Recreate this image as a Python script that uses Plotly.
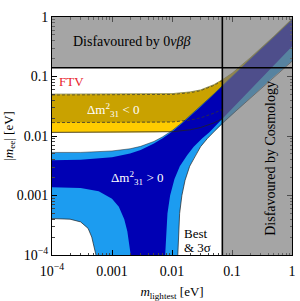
import plotly.graph_objects as go

# ---------------- data ----------------
# lightest neutrino mass grid for upper boundaries [eV]
M_UP = [1e-4, 3e-4, 1e-3, 2e-3, 3e-3, 5e-3, 7e-3, 0.01, 0.015, 0.02, 0.03, 0.05, 0.07, 0.1, 0.2, 0.5, 1.0]
NH_UP_3S = [0.0053, 0.0053, 0.0056, 0.0061, 0.0067, 0.0081, 0.0097, 0.0123, 0.0170, 0.0220, 0.0315, 0.0510, 0.0710, 0.101, 0.195, 0.46, 0.90]
NH_UP_BF = [0.0039, 0.0040, 0.0044, 0.0051, 0.0058, 0.0075, 0.0092, 0.0118, 0.0165, 0.0213, 0.0310, 0.0505, 0.0705, 0.100, 0.193, 0.455, 0.89]

# NH best-fit lower boundary, left branch (goes to zero)
M_NH_LO_BF_L = [1e-4, 3e-4, 6e-4, 1e-3, 1.3e-3, 1.6e-3, 1.8e-3, 1.95e-3, 2.05e-3]
NH_LO_BF_L = [0.00138, 0.00134, 0.00118, 0.00088, 0.00065, 0.00040, 0.00025, 0.00015, 0.0001]
# NH best-fit lower boundary, right branch
M_NH_LO_BF_R = [0.0077, 0.0079, 0.0084, 0.0093, 0.0110, 0.0135, 0.018, 0.023, 0.032, 0.042, 0.069, 0.1, 0.2, 0.5, 1.0]
NH_LO_BF_R = [0.0001, 0.0002, 0.0005, 0.0010, 0.0019, 0.0031, 0.0048, 0.0066, 0.0092, 0.0116, 0.019, 0.028, 0.060, 0.155, 0.32]

# NH 3 sigma lower boundary, left branch
M_NH_LO_3S_L = [1e-4, 2e-4, 3e-4, 4e-4, 4.6e-4, 5.1e-4, 5.4e-4]
NH_LO_3S_L = [0.00041, 0.00040, 0.00036, 0.00028, 0.00020, 0.00013, 0.0001]
# NH 3 sigma lower boundary, right branch
M_NH_LO_3S_R = [0.0125, 0.0128, 0.0134, 0.0146, 0.0165, 0.0197, 0.0245, 0.0299, 0.0389, 0.0489, 0.069, 0.1, 0.2, 0.5, 1.0]
NH_LO_3S_R = [0.0001, 0.0002, 0.0005, 0.0010, 0.0018, 0.0031, 0.0047, 0.0066, 0.0091, 0.0116, 0.0164, 0.023, 0.043, 0.100, 0.18]

# inverted hierarchy
M_IH = [1e-4, 1e-3, 0.005, 0.01, 0.02, 0.03, 0.05, 0.069, 0.1, 0.2, 0.5, 1.0]
IH_UP_3S = [0.0505, 0.0505, 0.0507, 0.0515, 0.0550, 0.0595, 0.0730, 0.0880, 0.113, 0.205, 0.475, 0.93]
IH_UP_BF = [0.0490, 0.0490, 0.0492, 0.0500, 0.0535, 0.0580, 0.0710, 0.0860, 0.111, 0.200, 0.465, 0.92]
IH_LO_BF = [0.0168, 0.0168, 0.0169, 0.0172, 0.0185, 0.0202, 0.0242, 0.0280, 0.037, 0.070, 0.17, 0.34]
IH_LO_3S = [0.0115, 0.0115, 0.0116, 0.0118, 0.0127, 0.0139, 0.0166, 0.0195, 0.026, 0.048, 0.115, 0.20]

# limits
M_COSMO = 0.069      # cosmology bound on m_lightest
MEE_0NUBB = 0.14     # 0nubb bound on |m_ee|

X_TICKS = [1e-4, 1e-3, 1e-2, 1e-1, 1]
X_TICKTEXT = ["10<sup>\u22124</sup>", "0.001", "0.01", "0.1", "1"]
Y_TICKS = [1e-4, 1e-3, 1e-2, 1e-1, 1]
Y_TICKTEXT = ["10<sup>\u22124</sup>", "0.001", "0.01", "0.1", "1"]
MINOR = [k * 10 ** e for e in range(-4, 0) for k in range(2, 10)]

FLOOR = 1e-7

C_LIGHT = "#1c9cf0"
C_DARK = "#0000b4"
C_GOLD = "#c9a200"
C_YELLOW = "#ffcc00"
SERIF = "Liberation Serif"

# ---------------- figure ----------------
def region(ux, uy, lx, ly):
    return list(ux) + list(reversed(lx)), list(uy) + list(reversed(ly))

fig = go.Figure()

# IH 3 sigma (yellow)
x, y = region(M_IH, IH_UP_3S, M_IH, IH_LO_3S)
fig.add_trace(go.Scatter(x=x, y=y, fill="toself", fillcolor=C_YELLOW, line=dict(width=0), mode="lines", hoverinfo="skip"))
# IH best (gold)
x, y = region(M_IH, IH_UP_BF, M_IH, IH_LO_BF)
fig.add_trace(go.Scatter(x=x, y=y, fill="toself", fillcolor=C_GOLD, line=dict(width=0), mode="lines", hoverinfo="skip"))

# NH 3 sigma (light blue)
lo3x = M_NH_LO_3S_L + [M_NH_LO_3S_L[-1], M_NH_LO_3S_R[0]] + M_NH_LO_3S_R
lo3y = NH_LO_3S_L + [FLOOR, FLOOR] + NH_LO_3S_R
x, y = region(M_UP, NH_UP_3S, lo3x, lo3y)
fig.add_trace(go.Scatter(x=x, y=y, fill="toself", fillcolor=C_LIGHT, line=dict(width=0), mode="lines", hoverinfo="skip"))

# NH best (dark blue)
lobx = M_NH_LO_BF_L + [M_NH_LO_BF_L[-1], M_NH_LO_BF_R[0]] + M_NH_LO_BF_R
loby = NH_LO_BF_L + [FLOOR, FLOOR] + NH_LO_BF_R
x, y = region(M_UP, NH_UP_BF, lobx, loby)
fig.add_trace(go.Scatter(x=x, y=y, fill="toself", fillcolor=C_DARK, line=dict(width=0), mode="lines", hoverinfo="skip"))

# outlines
n_ih = M_IH.index(M_COSMO) + 1
fig.add_trace(go.Scatter(x=M_IH[:n_ih], y=IH_UP_BF[:n_ih], mode="lines", line=dict(color="#333333", width=0.8, dash="3px,2px"), hoverinfo="skip"))
fig.add_trace(go.Scatter(x=M_IH[:n_ih], y=IH_LO_BF[:n_ih], mode="lines", line=dict(color="#333333", width=0.8, dash="3px,2px"), hoverinfo="skip"))
fig.add_trace(go.Scatter(x=M_IH, y=IH_UP_3S, mode="lines", line=dict(color="#7a7a40", width=0.8), hoverinfo="skip"))
fig.add_trace(go.Scatter(x=M_IH[:n_ih], y=IH_LO_3S[:n_ih], mode="lines", line=dict(color="#222222", width=0.8), hoverinfo="skip"))
fig.add_trace(go.Scatter(x=M_NH_LO_3S_L, y=NH_LO_3S_L, mode="lines", line=dict(color="#222222", width=0.7), hoverinfo="skip"))
fig.add_trace(go.Scatter(x=M_NH_LO_3S_R, y=NH_LO_3S_R, mode="lines", line=dict(color="#222222", width=0.7), hoverinfo="skip"))
fig.add_trace(go.Scatter(x=M_UP, y=NH_UP_3S, mode="lines", line=dict(color="#222222", width=0.5), hoverinfo="skip"))

# disfavoured regions (semi-transparent gray above data)
GRAY = "rgba(118,118,118,0.66)"
fig.add_shape(type="rect", xref="x", yref="y", x0=1e-4, x1=1, y0=MEE_0NUBB, y1=1,
              fillcolor=GRAY, line=dict(width=0), layer="above")
fig.add_shape(type="rect", xref="x", yref="y", x0=M_COSMO, x1=1, y0=1e-4, y1=MEE_0NUBB,
              fillcolor=GRAY, line=dict(width=0), layer="above")
fig.add_shape(type="line", xref="x", yref="y", x0=1e-4, x1=1, y0=MEE_0NUBB, y1=MEE_0NUBB,
              line=dict(color="black", width=1.6), layer="above")
fig.add_shape(type="line", xref="x", yref="y", x0=M_COSMO, x1=M_COSMO, y0=1e-4, y1=1,
              line=dict(color="black", width=1.6), layer="above")

L, T, W, H = 52, 17, 244, 244
def px(xp):
    return (xp - L) / W
def py(yp):
    return 1 - (yp - T) / H

def note(text, xp, yp, size=13, color="black", angle=0, align="center", xanchor="center"):
    fig.add_annotation(text=text, x=px(xp), y=py(yp), xref="paper", yref="paper",
                       xanchor=xanchor, yanchor="middle", borderpad=0,
                       showarrow=False, textangle=angle, align=align,
                       font=dict(family=SERIF, size=size, color=color))

note("Disfavoured by 0<i>\u03bd\u03b2\u03b2</i>", 133, 42, size=14)
note("Disfavoured by Cosmology", 274, 162, size=14, angle=-90)
note("FTV", 72, 83, size=13, color="#e8202a")
note("\u0394m<sup>2</sup><sub>31</sub> &lt; 0", 114, 112, size=13, color="white")
note("\u0394m<sup>2</sup><sub>31</sub> &gt; 0", 138, 182, size=13, color="white")
note("Best", 185, 239, size=13, align="left", xanchor="left")
note("&amp; 3\u03c3", 185, 253, size=13, align="left", xanchor="left")

axis_common = dict(type="log", range=[-4, 0], showgrid=False, zeroline=False,
                   showline=True, linecolor="black", linewidth=1, mirror="allticks",
                   ticks="inside", ticklen=5, tickcolor="black",
                   tickfont=dict(family=SERIF, size=14, color="black"),
                   minor=dict(ticks="inside", ticklen=2.5, tickcolor="#444", tickmode="array", tickvals=MINOR))
fig.update_xaxes(**axis_common, tickmode="array", tickvals=X_TICKS, ticktext=X_TICKTEXT, ticklabelstandoff=3,
                 title=dict(text="<i>m</i><sub>lightest</sub> [eV]", font=dict(family=SERIF, size=13, color="black"), standoff=9))
fig.update_yaxes(**axis_common, tickmode="array", tickvals=Y_TICKS, ticktext=Y_TICKTEXT,
                 title=dict(text="|<i>m</i><sub>ee</sub>| [eV]", font=dict(family=SERIF, size=13, color="black"), standoff=0))

fig.update_layout(width=300, height=301, margin=dict(l=L, r=300 - L - W, t=T, b=301 - T - H),
                  paper_bgcolor="white", plot_bgcolor="white", showlegend=False)

fig.write_html("out.html", config={"displayModeBar": False},
               post_script="document.body.style.margin='0px';document.body.style.overflow='hidden';")
